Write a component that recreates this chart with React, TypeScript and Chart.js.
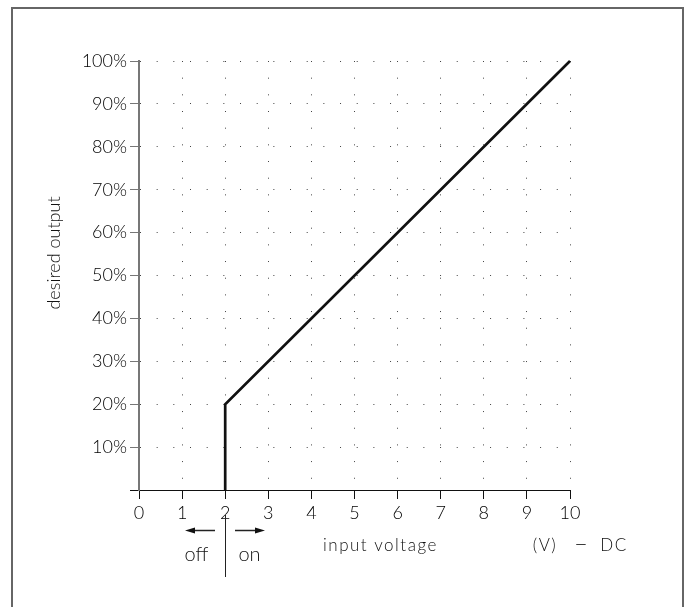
import React, { useEffect, useRef } from 'react';
import { Chart, registerables } from 'chart.js';

Chart.register(...registerables);

// ---- data ----
const xTickLabels = ['0', '1', '2', '3', '4', '5', '6', '7', '8', '9', '10'];
const yTickLabels = ['', '10%', '20%', '30%', '40%', '50%', '60%', '70%', '80%', '90%', '100%'];
const inputVoltage = [2, 2, 10];
const desiredOutput = [0, 20, 100];
const switchVoltage = 2;
const yAxisTitle = 'desired output';
const xAxisTitle = 'input voltage';
const unitParts = ['(V)', '–', 'DC'];
const offLabel = 'off';
const onLabel = 'on';

const FONT = 'Lato, "Liberation Sans", sans-serif';
const DOT = [1, 15.67];

function arrow(ctx: CanvasRenderingContext2D, from: number, to: number, y: number) {
  const dir = Math.sign(to - from);
  ctx.beginPath();
  ctx.moveTo(from, y);
  ctx.lineTo(to - dir * 6, y);
  ctx.stroke();
  ctx.beginPath();
  ctx.moveTo(to, y);
  ctx.lineTo(to - dir * 10, y - 3);
  ctx.lineTo(to - dir * 10, y + 3);
  ctx.closePath();
  ctx.fill();
}

const annotations = {
  id: 'annotations',
  afterDraw(chart: any) {
    const { ctx, scales } = chart;
    const sx = Math.round(scales.x.getPixelForValue(switchVoltage));
    ctx.save();
    ctx.strokeStyle = '#222';
    ctx.fillStyle = '#111';
    ctx.lineWidth = 1;
    ctx.beginPath();
    ctx.moveTo(sx + 0.5, 515);
    ctx.lineTo(sx + 0.5, 577);
    ctx.stroke();
    ctx.lineWidth = 1.5;
    arrow(ctx, sx - 10, sx - 40, 530.5);
    arrow(ctx, sx + 10, sx + 40, 530.5);

    ctx.fillStyle = '#111';
    ctx.textBaseline = 'alphabetic';
    ctx.textAlign = 'center';
    ctx.font = `300 20px ${FONT}`;
    ctx.fillText(offLabel, sx - 28.5, 561);
    ctx.fillText(onLabel, sx + 24.5, 561);

    ctx.font = `300 17px ${FONT}`;
    (ctx as any).letterSpacing = '1.5px';
    ctx.textAlign = 'left';
    ctx.fillText(xAxisTitle, 323, 551);
    ctx.textAlign = 'center';
    ctx.fillText(unitParts[0], 545, 551);
    ctx.fillText(unitParts[2], 614, 551);
    (ctx as any).letterSpacing = '0px';
    ctx.font = `300 24px ${FONT}`;
    ctx.fillText(unitParts[1], 581, 551);

    ctx.translate(60, 253);
    ctx.rotate(-Math.PI / 2);
    ctx.font = `300 18px ${FONT}`;
    ctx.fillText(yAxisTitle, 0, 0);
    ctx.restore();
  },
};

export default function App() {
  const ref = useRef<HTMLCanvasElement>(null);
  useEffect(() => {
    if (!ref.current) return;
    const tickFont = { family: FONT, size: 18, weight: '300' as any };
    const chart = new Chart(ref.current, {
      type: 'scatter',
      data: {
        datasets: [
          {
            data: inputVoltage.map((x, i) => ({ x, y: desiredOutput[i] })),
            showLine: true,
            borderColor: '#111',
            borderWidth: 2.7,
            pointRadius: 0,
            tension: 0,
            clip: false as any,
          },
        ],
      },
      options: {
        animation: false,
        responsive: false,
        layout: { padding: { top: 61, right: 118, bottom: 77, left: 0 } },
        plugins: { legend: { display: false }, tooltip: { enabled: false } },
        scales: {
          x: {
            type: 'linear',
            min: 0,
            max: 10,
            afterFit: (s: any) => {
              s.height = 40;
            },
            ticks: {
              stepSize: 1,
              autoSkip: false,
              maxRotation: 0,
              padding: 3,
              color: '#000',
              font: tickFont,
              callback: (v: any) => xTickLabels[Number(v)] ?? '',
            },
            grid: {
              color: (c: any) => (c.tick && c.tick.value === 0 ? 'rgba(0,0,0,0)' : '#444'),
              tickColor: '#111',
              tickLength: 9,
              tickWidth: 1,
              lineWidth: 1,
              tickBorderDash: [],
            },
            border: { display: true, color: '#111', width: 1, dash: DOT },
          },
          y: {
            type: 'linear',
            min: 0,
            max: 100,
            afterFit: (s: any) => {
              s.width = 139;
            },
            ticks: {
              stepSize: 10,
              autoSkip: false,
              padding: 3,
              color: '#000',
              font: tickFont,
              callback: (v: any) => yTickLabels[Math.round(Number(v) / 10)] ?? '',
            },
            grid: {
              color: (c: any) => (c.tick && c.tick.value === 0 ? 'rgba(0,0,0,0)' : '#444'),
              tickColor: (c: any) => (c.tick && c.tick.value === 0 ? '#111' : '#777'),
              tickLength: 9,
              tickWidth: 1,
              lineWidth: 1,
              tickBorderDash: [],
            },
            border: { display: true, color: '#777', width: 2, dash: DOT },
          },
        },
      },
      plugins: [annotations],
    });
    return () => chart.destroy();
  }, []);

  return (
    <div style={{ position: 'fixed', left: 0, top: 0, width: 688, height: 607, overflow: 'hidden', background: '#fff' }}>
      <div
        style={{
          position: 'absolute',
          left: 11,
          top: 7,
          width: 673,
          height: 700,
          boxSizing: 'border-box',
          border: '2px solid #666',
        }}
      />
      <canvas ref={ref} width={688} height={607} style={{ position: 'absolute', left: 0, top: 0 }} />
    </div>
  );
}
